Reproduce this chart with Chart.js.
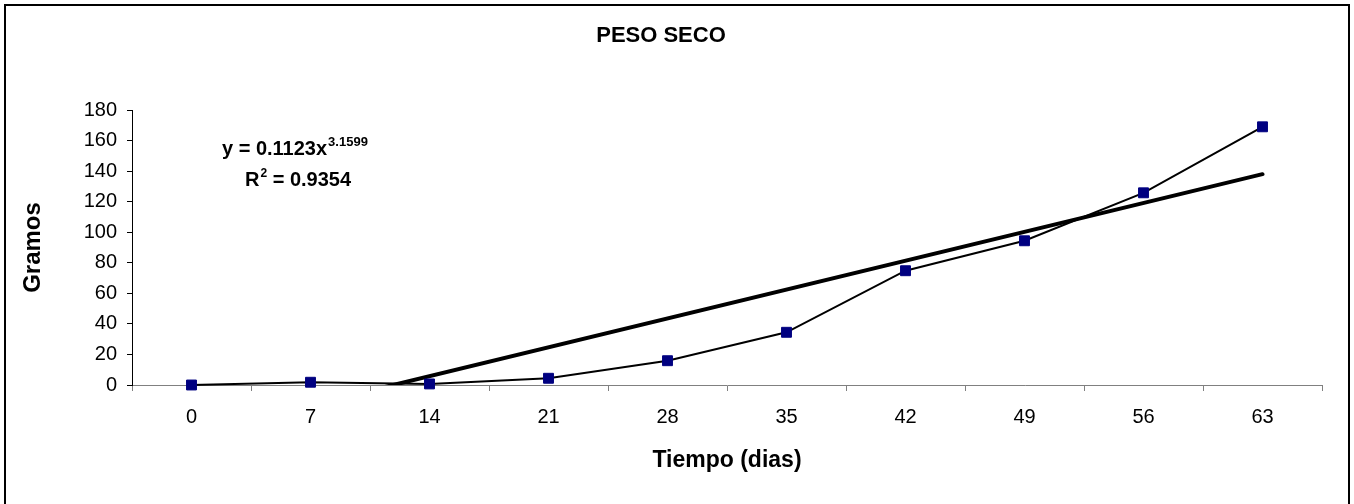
<!DOCTYPE html>
<html><head><meta charset="utf-8">
<script src="https://cdn.jsdelivr.net/npm/chart.js@4.4.0/dist/chart.umd.min.js"></script>
<style>html,body{margin:0;padding:0;background:#fff;} canvas{display:block;}</style>
</head><body>
<canvas id="c" width="1354" height="504"></canvas>
<script>
// ---- data ----
const categories = ['0', '7', '14', '21', '28', '35', '42', '49', '56', '63'];
const pesoSeco = [0, 1.8, 0.7, 4.4, 15.9, 34.5, 74.8, 94.4, 125.8, 169];
// trend line as drawn: value at first and last category (clipped at 0)
const trendLine = [-32, null, null, null, null, null, null, null, null, 138];
const yMin = 0, yMax = 180, yStep = 20;
const chartTitle = 'PESO SECO';
const xTitle = 'Tiempo (dias)';
const yTitle = 'Gramos';
const eqMain = 'y = 0.1123x';
const eqExp = '3.1599';
const r2Value = ' = 0.9354';

const FAM = "'Liberation Sans', Arial, Helvetica, sans-serif";
Chart.defaults.font.family = FAM;
Chart.defaults.color = '#000';

const bgFrame = {
  id: 'bgFrame',
  beforeDraw(chart) {
    const ctx = chart.ctx;
    ctx.save();
    ctx.fillStyle = '#fff';
    ctx.fillRect(0, 0, chart.width, chart.height);
    ctx.restore();
  },
  afterDraw(chart) {
    const ctx = chart.ctx;
    const a = chart.chartArea;
    ctx.save();
    // outer frame
    ctx.strokeStyle = '#000';
    ctx.lineWidth = 2;
    ctx.beginPath();
    ctx.moveTo(5, chart.height + 10);
    ctx.lineTo(5, 5);
    ctx.lineTo(1349, 5);
    ctx.lineTo(1349, chart.height + 10);
    ctx.stroke();
    // equation text
    ctx.fillStyle = '#000';
    ctx.textBaseline = 'alphabetic';
    ctx.textAlign = 'left';
    ctx.font = 'bold 20px ' + FAM;
    let x1 = a.left + 90, b1 = a.top + 45;
    ctx.fillText(eqMain, x1, b1);
    const w1 = ctx.measureText(eqMain).width;
    ctx.font = 'bold 13px ' + FAM;
    ctx.fillText(eqExp, x1 + w1 + 1, b1 - 9);
    ctx.font = 'bold 20px ' + FAM;
    let x2 = a.left + 113, b2 = a.top + 76;
    ctx.fillText('R', x2, b2);
    const wr = ctx.measureText('R').width;
    ctx.font = 'bold 12px ' + FAM;
    ctx.fillText('2', x2 + wr + 1, b2 - 9);
    const w2 = ctx.measureText('2').width;
    ctx.font = 'bold 20px ' + FAM;
    ctx.fillText(r2Value, x2 + wr + w2 + 1, b2);
    ctx.restore();
  }
};

new Chart(document.getElementById('c'), {
  type: 'line',
  data: {
    labels: categories,
    datasets: [
      {
        label: 'Peso seco',
        data: pesoSeco,
        borderColor: '#000',
        borderWidth: 2,
        tension: 0,
        pointStyle: 'rect',
        pointRadius: 7,
        pointBackgroundColor: '#000080',
        pointBorderColor: '#000080',
        pointBorderWidth: 1,
        clip: false
      },
      {
        label: 'Tendencia',
        data: trendLine,
        borderColor: '#000',
        borderWidth: 4,
        tension: 0,
        pointRadius: 0,
        spanGaps: true,
        borderCapStyle: 'round'
      }
    ]
  },
  options: {
    responsive: false,
    devicePixelRatio: 1,
    animation: false,
    events: [],
    layout: { padding: { left: 0, right: 32, top: 0, bottom: 0 } },
    plugins: {
      legend: { display: false },
      tooltip: { enabled: false },
      title: {
        display: true,
        text: chartTitle,
        color: '#000',
        font: { size: 22, weight: 'bold', family: FAM },
        padding: { top: 23, bottom: 60.6 }
      }
    },
    scales: {
      x: {
        type: 'category',
        offset: true,
        grid: { display: true, drawOnChartArea: false, drawTicks: true, tickLength: 6, color: '#808080', offset: true },
        border: { display: true, color: '#808080', width: 1 },
        ticks: { color: '#000', font: { size: 20, family: FAM }, padding: 14, maxRotation: 0, autoSkip: false },
        title: { display: true, text: xTitle, color: '#000', font: { size: 23, weight: 'bold', family: FAM }, padding: { top: 0, bottom: 30 } },
        afterFit(s) { s.height = 119; }
      },
      y: {
        min: yMin,
        max: yMax,
        grid: { display: true, drawOnChartArea: false, drawTicks: true, tickLength: 5, color: '#000' },
        border: { display: true, color: '#000', width: 1 },
        ticks: { stepSize: yStep, color: '#000', font: { size: 20, family: FAM }, padding: 10 },
        title: { display: true, text: yTitle, color: '#000', font: { size: 24, weight: 'bold', family: FAM }, padding: { top: 19, bottom: 0 } },
        afterFit(s) { s.width = 132; }
      }
    }
  },
  plugins: [bgFrame]
});
</script>
</body></html>
